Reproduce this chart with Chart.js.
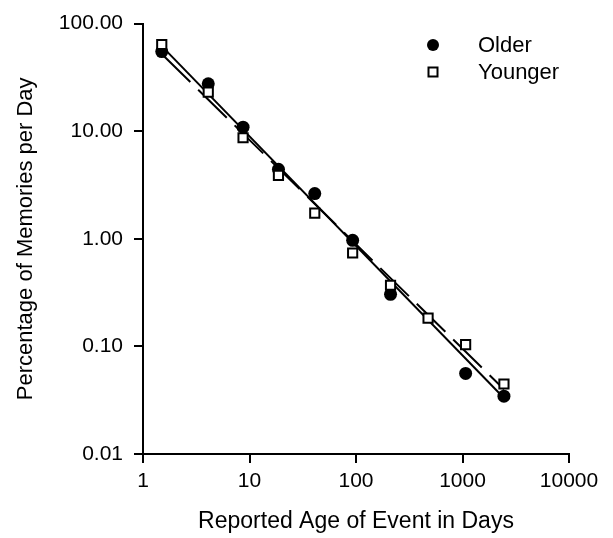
<!DOCTYPE html>
<html>
<head>
<meta charset="utf-8">
<title>Memories per Day</title>
<script src="https://cdn.jsdelivr.net/npm/chart.js@4.4.1/dist/chart.umd.min.js"></script>
<style>
    html, body { margin: 0; padding: 0; background: #fff; }
    #wrap { width: 613px; height: 538px; }
</style>
</head>
<body>
<div id="wrap"><canvas id="chart" width="613" height="538"></canvas></div>
<script>
'use strict';

// ── Data ──────────────────────────────────────────────────────────────────────
const days        = [1.5, 4.1, 8.7, 18.7, 41, 93, 211, 475, 1070, 2450];
const olderPct    = [55.0, 27.6, 10.9, 4.42, 2.63, 0.968, 0.305, null, 0.0561, 0.0345];
const youngerPct  = [63.9, 23.1, 8.69, 3.88, 1.73, 0.738, 0.370, 0.183, 0.104, 0.0447];

// fitted regression lines, end points only
const fitDays     = [1.5, 2450];
const fitOlder    = [61.7, 0.0331];
const fitYounger  = [52.2, 0.040];

const xTicks = [1, 10, 100, 1000, 10000];
const yTicks = [0.01, 0.1, 1, 10, 100];

const FONT = '"Liberation Sans", Arial, sans-serif';

const pts = (xs, ys) => xs.map((x, i) => ({ x, y: ys[i] })).filter(p => p.y !== null);

// ── Legend drawn inside the plot (top right) ─────────────────────────────────
const insideLegend = {
    id: 'insideLegend',
    afterDraw(chart) {
        const ctx = chart.ctx;
        ctx.save();
        ctx.fillStyle = '#000';
        ctx.strokeStyle = '#000';

        // Older: filled dot
        ctx.beginPath();
        ctx.arc(433, 45, 6, 0, Math.PI * 2);
        ctx.fill();

        // Younger: open square
        ctx.lineWidth = 2;
        ctx.fillStyle = '#fff';
        ctx.fillRect(428.5, 67.5, 9, 9);
        ctx.strokeRect(428.5, 67.5, 9, 9);

        ctx.fillStyle = '#000';
        ctx.font = `22px ${FONT}`;
        ctx.textBaseline = 'middle';
        ctx.fillText('Older', 478, 46);
        ctx.fillText('Younger', 478, 73);
        ctx.restore();
    }
};

// ── Chart ─────────────────────────────────────────────────────────────────────
new Chart(document.getElementById('chart'), {
    type: 'scatter',
    data: {
        datasets: [
            {
                label: 'Younger',
                data: pts(days, youngerPct),
                pointStyle: 'rect',
                pointRadius: 6.5,
                pointBorderWidth: 2,
                pointBackgroundColor: '#fff',
                pointBorderColor: '#000',
                order: 0
            },
            {
                label: 'Older',
                data: pts(days, olderPct),
                pointStyle: 'circle',
                pointRadius: 6.5,
                pointBorderWidth: 0,
                pointBackgroundColor: '#000',
                pointBorderColor: '#000',
                order: 1
            },
            {
                label: 'Older fit',
                data: pts(fitDays, fitOlder),
                showLine: true,
                borderColor: '#000',
                borderWidth: 2,
                pointRadius: 0,
                order: 2
            },
            {
                label: 'Younger fit',
                data: pts(fitDays, fitYounger),
                showLine: true,
                borderColor: '#000',
                borderWidth: 2,
                borderDash: [40, 11],
                pointRadius: 0,
                order: 3
            }
        ]
    },
    options: {
        responsive: false,
        animation: false,
        devicePixelRatio: 1,
        layout: { padding: { top: 23, right: 44, left: 0, bottom: 0 } },
        plugins: {
            legend: { display: false },
            tooltip: { enabled: false }
        },
        scales: {
            x: {
                type: 'logarithmic',
                min: 1,
                max: 10000,
                afterBuildTicks: s => { s.ticks = xTicks.map(v => ({ value: v })); },
                afterFit: s => { s.height = 84; },
                border: { display: true, color: '#000', width: 2 },
                grid: { drawOnChartArea: false, drawTicks: true, tickLength: 9, color: '#000', lineWidth: 2 },
                ticks: {
                    color: '#000',
                    font: { family: FONT, size: 21 },
                    padding: 6,
                    maxRotation: 0,
                    autoSkip: false,
                    callback: v => String(v)
                },
                title: {
                    display: true,
                    text: 'Reported Age of Event in Days',
                    color: '#000',
                    font: { family: FONT, size: 23 },
                    padding: { top: 0, bottom: 3 }
                }
            },
            y: {
                type: 'logarithmic',
                min: 0.01,
                max: 100,
                afterBuildTicks: s => { s.ticks = yTicks.map(v => ({ value: v })); },
                afterFit: s => { s.width = 143; },
                border: { display: true, color: '#000', width: 2 },
                grid: { drawOnChartArea: false, drawTicks: true, tickLength: 9, color: '#000', lineWidth: 2 },
                ticks: {
                    color: '#000',
                    font: { family: FONT, size: 21 },
                    padding: 11,
                    autoSkip: false,
                    callback: v => Number(v).toFixed(2)
                },
                title: {
                    display: true,
                    text: 'Percentage of Memories per Day',
                    color: '#000',
                    font: { family: FONT, size: 22 },
                    padding: { top: 13, bottom: 0 }
                }
            }
        }
    },
    plugins: [insideLegend]
});
</script>
</body>
</html>
